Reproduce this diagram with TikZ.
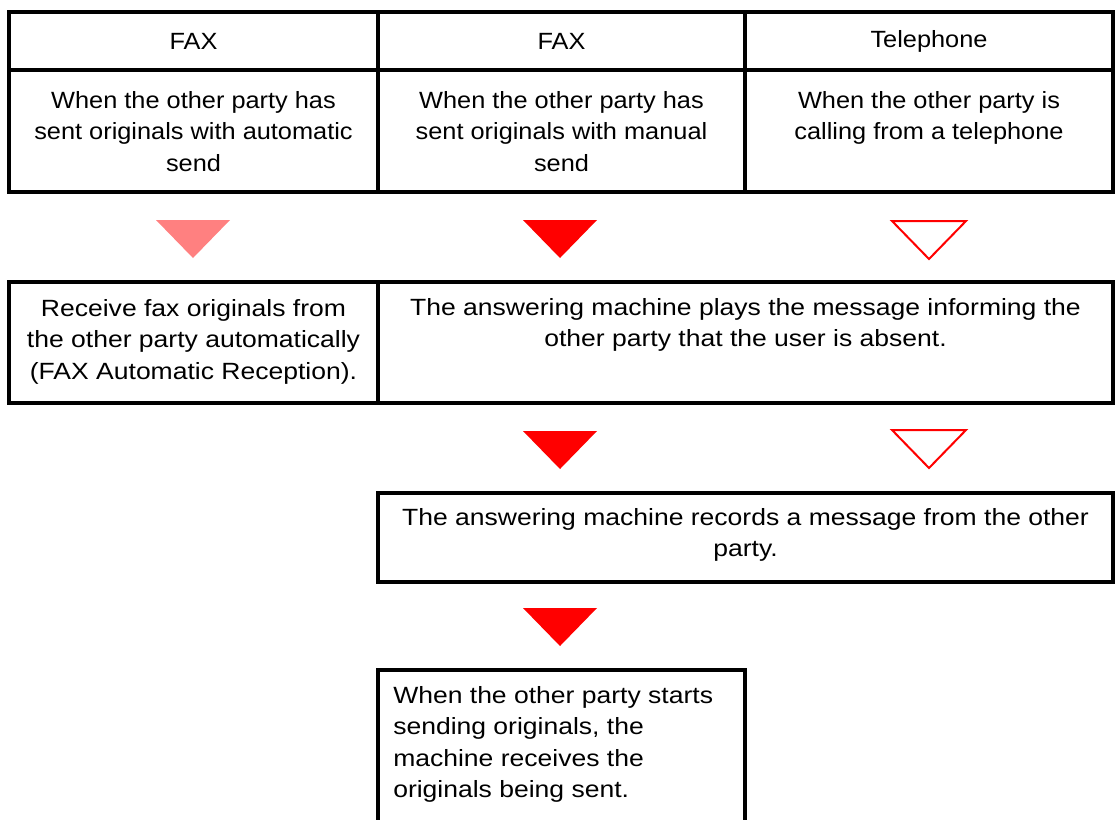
\documentclass[tikz,border=0pt]{standalone}
\usepackage{fontspec}
\setmainfont{Liberation Sans}
\newfontfamily\cellfont[FakeStretch=1.08]{Liberation Sans}
\newfontfamily\widefont[FakeStretch=1.13]{Liberation Sans}
\begin{document}
\begin{tikzpicture}
  [x=0.75pt, y=-0.75pt,
   frame/.style={line width=2.4pt, draw=black},
   txt/.style={font=\cellfont\fontsize{17.6}{23.6}\selectfont, align=center, inner sep=0pt},
   txtwide/.style={font=\widefont\fontsize{17.6}{23.6}\selectfont, align=center, inner sep=0pt},
   txtleft/.style={font=\widefont\fontsize{17.6}{23.6}\selectfont, align=left, inner sep=0pt},
   trilight/.style={fill=red!50},
   trifull/.style={fill=red},
   triopen/.style={draw=red, line width=1.5pt, fill=white},
   downtri/.pic={\path[pic actions] (-37,-19) -- (37,-19) -- (0,19) -- cycle;}]

  \useasboundingbox (0,0) rectangle (1117,819);
  \clip (0,0) rectangle (1117,819);

  % Tabla superior
  \draw[frame] (9,12) rectangle (1113,192);
  \draw[frame] (9,70) -- (1113,70);
  \foreach \x in {378, 745}
    \draw[frame] (\x,12) -- (\x,192);

  \node[txt] (h1) at (193.5,41) {FAX};
  \node[txt] (h2) at (561.5,41) {FAX};
  \node[txt] (h3) at (929,41) {Telephone};

  \node[txt, anchor=north] (c1) at (193.5,91) {When the other party has\\sent originals with automatic\\send};
  \node[txt, anchor=north] (c2) at (561.5,91) {When the other party has\\sent originals with manual\\send};
  \node[txt, anchor=north] (c3) at (929,91) {When the other party is\\calling from a telephone};

  % Flechas (triángulos)
  \pic[trilight] (t1) at (193,239) {downtri};
  \pic[trifull] (t2) at (560,239) {downtri};
  \pic[triopen] (t3) at (929,240) {downtri};

  % Segunda fila
  \draw[frame] (9,282) rectangle (1113,403);
  \draw[frame] (378,282) -- (378,403);

  \node[txtwide, anchor=north] (r1) at (193.5,299) {Receive fax originals from\\the other party automatically\\(FAX Automatic Reception).};
  \node[txtwide, anchor=north] (r2) at (745.5,298) {The answering machine plays the message informing the\\other party that the user is absent.};

  \pic[trifull] (t4) at (560,450) {downtri};
  \pic[triopen] (t5) at (929,449) {downtri};

  % Grabación
  \draw[frame] (378,493) rectangle (1113,582);
  \node[txtwide, anchor=north] (rec) at (745.5,508) {The answering machine records a message from the other\\party.};

  \pic[trifull] (t6) at (560,627) {downtri};

  % Recepción manual
  \draw[frame] (378,670) rectangle (745,840);
  \node[txtleft, anchor=north west] (man) at (393,686) {When the other party starts\\sending originals, the\\machine receives the\\originals being sent.};
\end{tikzpicture}
\end{document}
